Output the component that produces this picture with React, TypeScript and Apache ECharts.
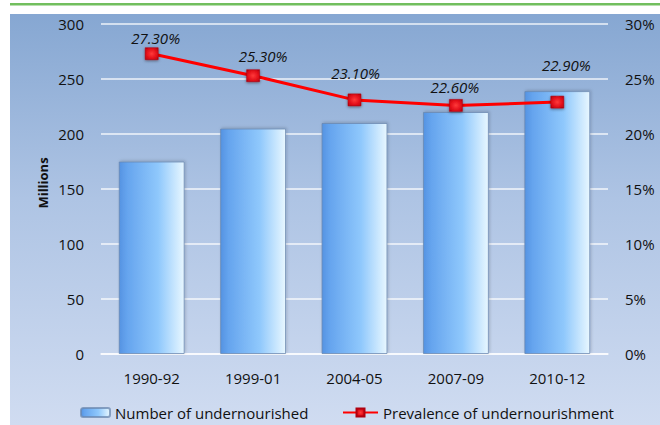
import React, { useEffect, useRef } from "react";
import * as echarts from "echarts";

const categories = ["1990-92", "1999-01", "2004-05", "2007-09", "2010-12"];
const undernourished = [175, 205, 210, 220, 239];
const prevalence = [27.3, 25.3, 23.1, 22.6, 22.9];
const leftTicks = { min: 0, max: 300, interval: 50 };
const rightTicks = { min: 0, max: 30, interval: 5 };
const barName = "Number of undernourished";
const lineName = "Prevalence of undernourishment";

// label placement (style only)
const labelOffsets: [number, number][] = [
  [4, -16],
  [10, -20],
  [1, -27],
  [-1, -18],
  [9, -37],
];

const FONT = "'Open Sans', 'Noto Sans', sans-serif";

export default function App() {
  const ref = useRef<HTMLDivElement>(null);
  useEffect(() => {
    document.body.style.margin = "0";
    if (!ref.current) return;
    const chart = echarts.init(ref.current, undefined, { renderer: "svg" });
    const barGradient = new echarts.graphic.LinearGradient(0, 0, 1, 0, [
      { offset: 0, color: "#5593e2" },
      { offset: 0.12, color: "#65a4ee" },
      { offset: 0.6, color: "#8fc8fc" },
      { offset: 1, color: "#e8f7ff" },
    ]);
    const markerGradient = new echarts.graphic.RadialGradient(0.5, 0.5, 0.7, [
      { offset: 0, color: "#ff3a3a" },
      { offset: 0.6, color: "#e00d18" },
      { offset: 1, color: "#a8000e" },
    ]);
    chart.setOption({
      animation: false,
      textStyle: { fontFamily: FONT },
      graphic: [
        {
          type: "rect",
          z: -10,
          shape: { x: 10, y: 14, width: 650, height: 411 },
          style: {
            fill: new echarts.graphic.LinearGradient(0, 0, 0, 1, [
              { offset: 0, color: "#86a7d2" },
              { offset: 0.45, color: "#aec4e4" },
              { offset: 1, color: "#d0dcf1" },
            ]),
          },
          silent: true,
        },
        {
          type: "rect",
          z: -10,
          shape: { x: 10, y: 3, width: 650, height: 2.5 },
          style: { fill: "#72bf5e" },
          silent: true,
        },
        {
          type: "text",
          x: 43,
          y: 183,
          rotation: Math.PI / 2,
          style: {
            text: "Millions",
            font: `bold 13px ${FONT}`,
            fill: "#111",
            align: "center",
            verticalAlign: "middle",
          },
        },
      ],
      grid: { left: 101, right: 52, top: 24, bottom: 71 },
      legend: [
        {
          data: [barName],
          left: 75,
          top: 400,
          itemWidth: 29,
          itemHeight: 9,
          textStyle: { fontFamily: FONT, fontSize: 15, color: "#111" },
        },
        {
          data: [lineName],
          left: 337,
          top: 400,
          itemWidth: 35,
          itemHeight: 10,
          textStyle: { fontFamily: FONT, fontSize: 15, color: "#111" },
        },
      ],
      xAxis: {
        type: "category",
        data: categories,
        axisLine: { lineStyle: { color: "rgba(255,255,255,0.85)", width: 1.5 } },
        axisTick: { show: false },
        axisLabel: { fontFamily: FONT, fontSize: 15, color: "#111", margin: 16 },
      },
      yAxis: [
        {
          type: "value",
          ...leftTicks,
          axisLine: { show: false },
          axisTick: { show: false },
          splitLine: { lineStyle: { color: "rgba(255,255,255,0.85)", width: 1.5 } },
          axisLabel: { fontFamily: FONT, fontSize: 15, color: "#111", margin: 17 },
        },
        {
          type: "value",
          ...rightTicks,
          position: "right",
          axisLine: { show: false },
          axisTick: { show: false },
          splitLine: { show: false },
          axisLabel: {
            fontFamily: FONT,
            fontSize: 15,
            color: "#111",
            margin: 17,
            formatter: "{value}%",
          },
        },
      ],
      series: [
        {
          name: barName,
          type: "bar",
          data: undernourished,
          barCategoryGap: "35%",
          itemStyle: {
            color: barGradient,
            borderColor: "rgba(105,135,175,0.75)",
            borderWidth: 1,
            shadowColor: "rgba(0,0,0,0.18)",
            shadowBlur: 3,
            shadowOffsetX: 1,
            shadowOffsetY: -1,
          },
        },
        {
          name: lineName,
          type: "line",
          yAxisIndex: 1,
          data: prevalence.map((v, i) => ({
            value: v,
            label: { offset: labelOffsets[i] },
          })),
          symbol: "rect",
          symbolSize: [13, 12],
          lineStyle: { color: "#ff0000", width: 3 },
          itemStyle: {
            color: markerGradient,
            borderColor: "#b0000f",
            borderWidth: 0.5,
            shadowColor: "rgba(0,0,0,0.45)",
            shadowBlur: 3,
            shadowOffsetY: 1,
          },
          label: {
            show: true,
            position: "inside",
            fontFamily: FONT,
            fontStyle: "italic",
            fontSize: 15,
            color: "#111",
            formatter: (p: any) => Number(p.value).toFixed(2) + "%",
          },
          z: 5,
        },
      ],
    });
    return () => chart.dispose();
  }, []);
  return <div ref={ref} style={{ width: 660, height: 425 }} />;
}
